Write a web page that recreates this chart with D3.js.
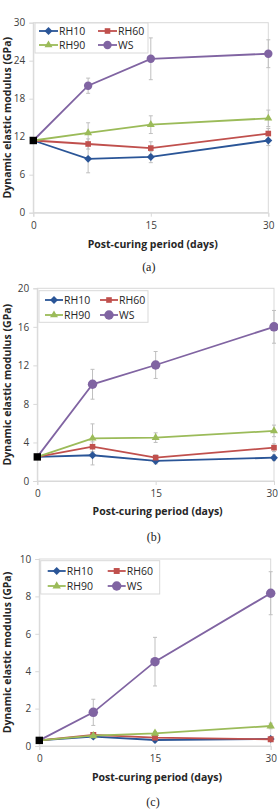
<!DOCTYPE html>
<html>
<head>
<meta charset="utf-8">
<script src="https://cdn.jsdelivr.net/npm/d3@7.9.0/dist/d3.min.js"></script>
<style>
  body { margin: 0; background: #fff; }
  svg { display: block; }
  .tick-label { font-family: "Open Sans", "Noto Sans", sans-serif; font-size: 10px; fill: #404040; }
  .axis-title { font-family: "Open Sans", "Noto Sans", sans-serif; font-size: 10.5px; font-weight: bold; fill: #262626; }
  .caption { font-family: "Liberation Serif", serif; font-size: 12px; fill: #222; }
  .legend-text { font-family: "Open Sans", "Noto Sans", sans-serif; font-size: 10.5px; fill: #262626; }
</style>
</head>
<body>
<svg id="chart" width="278" height="812"></svg>
<script>
// x values (post-curing days)
const days = [0, 7, 15, 30];
const seriesNames = ["RH10", "RH60", "RH90", "WS"];
const xTicks = [0, 15, 30];

// panel (a)
const rh10A = [11.4, 8.5, 8.8, 11.4];
const rh60A = [11.4, 10.85, 10.2, 12.5];
const rh90A = [11.4, 12.6, 13.9, 14.9];
const wsA = [11.4, 20.05, 24.3, 25.1];
const rh10ErrA = [0, 2.2, 0.9, 0.8];
const rh60ErrA = [0, 0.8, 1.0, 0.8];
const rh90ErrA = [0, 1.6, 1.4, 1.3];
const wsErrA = [0, 1.2, 3.3, 2.2];
const yTicksA = [0, 6, 12, 18, 24, 30];

// panel (b)
const rh10B = [2.5, 2.67, 2.08, 2.42];
const rh60B = [2.5, 3.56, 2.42, 3.46];
const rh90B = [2.5, 4.43, 4.5, 5.2];
const wsB = [2.5, 10.04, 12.04, 16.0];
const rh10ErrB = [0, 1.0, 0.3, 0.3];
const rh60ErrB = [0, 0.5, 0.3, 0.4];
const rh90ErrB = [0, 1.5, 0.5, 0.6];
const wsErrB = [0, 1.55, 1.4, 1.7];
const yTicksB = [0, 4, 8, 12, 16, 20];

// panel (c)
const rh10C = [0.3, 0.5, 0.32, 0.38];
const rh60C = [0.3, 0.59, 0.45, 0.36];
const rh90C = [0.3, 0.55, 0.68, 1.07];
const wsC = [0.3, 1.8, 4.51, 8.17];
const rh10ErrC = [0, 0.1, 0.1, 0.1];
const rh60ErrC = [0, 0.1, 0.1, 0.1];
const rh90ErrC = [0, 0.1, 0.1, 0.15];
const wsErrC = [0, 0.7, 1.3, 1.15];
const yTicksC = [0, 2, 4, 6, 8, 10];

const colors = ["#2a5597", "#c0504d", "#9bbb59", "#8064a2"];
const markers = [d3.symbolDiamond2, d3.symbolSquare2, d3.symbolTriangle2, d3.symbolCircle];

const svg = d3.select("#chart");
const W = 278;

function drawPanel(p) {
  const x = d3.scaleLinear().domain([0, 30]).range([p.left, p.right]);
  const y = d3.scaleLinear().domain([0, p.yMax]).range([p.bottom, p.top]);
  const g = svg.append("g");

  // plot frame
  g.append("rect")
    .attr("x", p.left).attr("y", p.top)
    .attr("width", p.right - p.left).attr("height", p.bottom - p.top)
    .attr("fill", "none").attr("stroke", "#d9d9d9").attr("stroke-width", 1);

  // y axis ticks + labels
  const yAxis = d3.axisLeft(y).tickValues(p.yTicks).tickSize(4).tickPadding(4);
  const ya = g.append("g").attr("transform", `translate(${p.left},0)`).call(yAxis);
  ya.select(".domain").attr("stroke", "#d9d9d9");
  ya.selectAll(".tick line").attr("stroke", "#d9d9d9");
  ya.selectAll(".tick text").attr("class", "tick-label").attr("font-family", null).attr("font-size", null).attr("fill", null);

  const xAxis = d3.axisBottom(x).tickValues(xTicks).tickSize(4).tickPadding(5);
  const xa = g.append("g").attr("transform", `translate(0,${p.bottom})`).call(xAxis);
  xa.select(".domain").attr("stroke", "#d9d9d9");
  xa.selectAll(".tick line").attr("stroke", "#d9d9d9");
  xa.selectAll(".tick text").attr("class", "tick-label").attr("font-family", null).attr("font-size", null).attr("fill", null);
  // keep the last label inside the page when the axis runs to the edge
  xa.selectAll(".tick text").filter(d => x(d) + 7 > W)
    .attr("text-anchor", "end")
    .attr("x", d => W - x(d) - 0.5);

  // titles
  g.append("text").attr("class", "axis-title")
    .attr("x", (p.left + p.right) / 2 + 2).attr("y", p.xTitleY)
    .attr("text-anchor", "middle").text("Post-curing period (days)");
  g.append("text").attr("class", "axis-title")
    .attr("transform", `translate(11,${(p.top + p.bottom) / 2}) rotate(-90)`)
    .attr("text-anchor", "middle").text("Dynamic elastic modulus (GPa)");
  g.append("text").attr("class", "caption")
    .attr("x", (p.left + p.right) / 2 - 2).attr("y", p.captionY)
    .attr("text-anchor", "middle").text(p.caption);

  // error bars
  p.values.forEach((vals, si) => {
    const errs = p.errors[si];
    vals.forEach((v, i) => {
      if (!errs[i]) return;
      const cx = x(days[i]);
      const y0 = y(v - errs[i]), y1 = y(v + errs[i]);
      const eb = g.append("g").attr("stroke", "#bfbfbf").attr("stroke-width", 1);
      eb.append("line").attr("x1", cx).attr("x2", cx).attr("y1", y0).attr("y2", y1);
      eb.append("line").attr("x1", cx - 2).attr("x2", cx + 2).attr("y1", y0).attr("y2", y0);
      eb.append("line").attr("x1", cx - 2).attr("x2", cx + 2).attr("y1", y1).attr("y2", y1);
    });
  });

  // lines + markers
  const line = d3.line().x((d, i) => x(days[i])).y(d => y(d));
  p.values.forEach((vals, si) => {
    g.append("path").datum(vals)
      .attr("d", line).attr("fill", "none")
      .attr("stroke", colors[si]).attr("stroke-width", 1.8);
    g.selectAll(null).data(vals.slice(1)).join("path")
      .attr("transform", (d, i) => `translate(${x(days[i + 1])},${y(d)})`)
      .attr("d", d3.symbol(markers[si], p.markerSizes[si]))
      .attr("fill", colors[si]);
  });

  // shared starting point
  g.append("path")
    .attr("transform", `translate(${x(days[0])},${y(p.values[0][0])})`)
    .attr("d", d3.symbol(d3.symbolSquare2, 70))
    .attr("fill", "#000");

  // legend
  const L = p.legend;
  g.append("rect")
    .attr("x", L.x).attr("y", L.y).attr("width", L.w).attr("height", L.h)
    .attr("fill", "#fff").attr("stroke", "#d9d9d9");
  seriesNames.forEach((name, si) => {
    const col = si % 2, row = Math.floor(si / 2);
    const lx = L.x + L.pad + col * L.colW;
    const ly = L.y + L.rowY[row];
    g.append("line").attr("x1", lx).attr("x2", lx + L.lineW)
      .attr("y1", ly).attr("y2", ly)
      .attr("stroke", colors[si]).attr("stroke-width", 1.8);
    g.append("path")
      .attr("transform", `translate(${lx + L.lineW / 2},${ly})`)
      .attr("d", d3.symbol(markers[si], p.markerSizes[si]))
      .attr("fill", colors[si]);
    g.append("text").attr("class", "legend-text")
      .attr("x", lx + L.lineW + 1).attr("y", ly).attr("dy", "0.35em")
      .text(name);
  });
}

drawPanel({
  caption: "(a)", left: 33.3, right: 268.3, top: 22.7, bottom: 212.7,
  yMax: 30, yTicks: yTicksA, xTitleY: 248, captionY: 271,
  values: [rh10A, rh60A, rh90A, wsA],
  errors: [rh10ErrA, rh60ErrA, rh90ErrA, wsErrA],
  markerSizes: [40, 40, 45, 55],
  legend: { x: 35, y: 23, w: 113, h: 30, pad: 4, colW: 59, lineW: 19, rowY: [8, 22] }
});

drawPanel({
  caption: "(b)", left: 37.3, right: 274, top: 288.3, bottom: 481,
  yMax: 20, yTicks: yTicksB, xTitleY: 515, captionY: 541,
  values: [rh10B, rh60B, rh90B, wsB],
  errors: [rh10ErrB, rh60ErrB, rh90ErrB, wsErrB],
  markerSizes: [40, 40, 45, 70],
  legend: { x: 39, y: 290.7, w: 109, h: 31.6, pad: 6, colW: 55, lineW: 18, rowY: [9.3, 24.3] }
});

drawPanel({
  caption: "(c)", left: 39.3, right: 270.7, top: 559, bottom: 746,
  yMax: 10, yTicks: yTicksC, xTitleY: 781, captionY: 806,
  values: [rh10C, rh60C, rh90C, wsC],
  errors: [rh10ErrC, rh60ErrC, rh90ErrC, wsErrC],
  markerSizes: [40, 45, 50, 70],
  legend: { x: 40.7, y: 560.7, w: 119, h: 33.3, pad: 7, colW: 60, lineW: 18, rowY: [10.3, 25.3] }
});
</script>
</body>
</html>
